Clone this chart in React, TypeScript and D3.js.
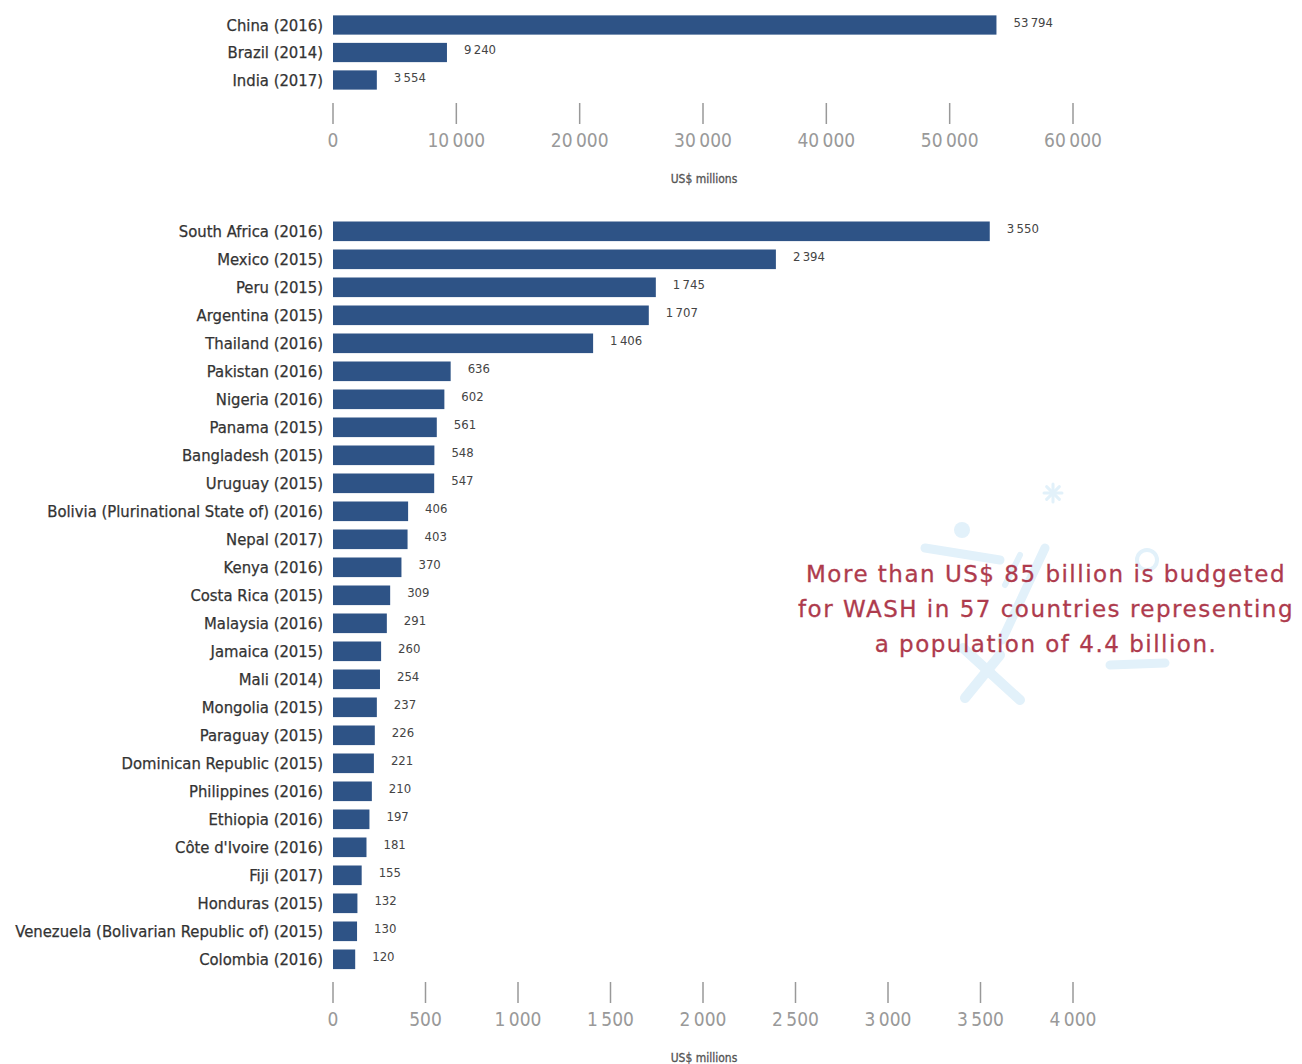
import React from "react";
import * as d3 from "d3";

const topCountries = ["China (2016)", "Brazil (2014)", "India (2017)"];
const topValues = [53794, 9240, 3554];
const topTicks = [0, 10000, 20000, 30000, 40000, 50000, 60000];

const countries = [
  "South Africa (2016)", "Mexico (2015)", "Peru (2015)", "Argentina (2015)", "Thailand (2016)",
  "Pakistan (2016)", "Nigeria (2016)", "Panama (2015)", "Bangladesh (2015)", "Uruguay (2015)",
  "Bolivia (Plurinational State of) (2016)", "Nepal (2017)", "Kenya (2016)", "Costa Rica (2015)",
  "Malaysia (2016)", "Jamaica (2015)", "Mali (2014)", "Mongolia (2015)", "Paraguay (2015)",
  "Dominican Republic (2015)", "Philippines (2016)", "Ethiopia (2016)", "Côte d'Ivoire (2016)",
  "Fiji (2017)", "Honduras (2015)", "Venezuela (Bolivarian Republic of) (2015)", "Colombia (2016)",
];
const values = [3550, 2394, 1745, 1707, 1406, 636, 602, 561, 548, 547, 406, 403, 370, 309, 291, 260, 254, 237, 226, 221, 210, 197, 181, 155, 132, 130, 120];
const bottomTicks = [0, 500, 1000, 1500, 2000, 2500, 3000, 3500, 4000];

const axisTitle = "US$ millions";
const noteLines = [
  "More than US$ 85 billion is budgeted",
  "for WASH in 57 countries representing",
  "a population of 4.4 billion.",
];

const BAR = "#2e5386";
const LABEL_FONT = "'Liberation Sans Narrow', 'DejaVu Sans Condensed', 'Roboto Condensed', Arial, sans-serif";
const fmt = (v: number) => d3.format(",")(v).replace(/,/g, "\u2009");

function Panel({ names, vals, ticks, max, y0, y1, axisY }: any) {
  const x = d3.scaleLinear().domain([0, max]).range([333, 1073]);
  const y = d3.scaleBand<string>().domain(names).range([y0, y1]).paddingInner(0.3).paddingOuter(0.15);
  return (
    <g>
      {names.map((n: string, i: number) => (
        <g key={n}>
          <text x={323} y={(y(n) as number) + y.bandwidth() / 2} dy="0.35em" textAnchor="end"
            fontFamily={LABEL_FONT} fontSize={16.5} fill="#333" stroke="#333" strokeWidth={0.25}>{n}</text>
          <rect x={x(0)} y={y(n)} width={x(vals[i]) - x(0)} height={y.bandwidth()} fill={BAR} />
          <text x={x(vals[i]) + 17} y={(y(n) as number) + y.bandwidth() / 2 - 3} dy="0.35em"
            fontFamily={LABEL_FONT} fontSize={13} fill="#444">{fmt(vals[i])}</text>
        </g>
      ))}
      {ticks.map((t: number) => (
        <g key={t}>
          <line x1={x(t)} x2={x(t)} y1={axisY} y2={axisY + 21} stroke="#999" strokeWidth={1.5} />
          <text x={x(t)} y={axisY + 37} dy="0.35em" textAnchor="middle" fontFamily={LABEL_FONT}
            fontSize={19} fill="#999">{fmt(t)}</text>
        </g>
      ))}
      <text x={704} y={axisY + 76} dy="0.35em" textAnchor="middle" fontFamily={LABEL_FONT}
        fontSize={12} fill="#555" stroke="#555" strokeWidth={0.3}>{axisTitle}</text>
    </g>
  );
}

export default function App() {
  const deco = "#e2f1fa";
  return (
    <svg width={1302} height={1064} style={{ display: "block", position: "absolute", left: 0, top: 0, background: "#fff" }}>
      {/* faint decorative illustration */}
      <g stroke={deco} fill="none" strokeLinecap="round">
        <g transform="translate(1053,493)" strokeWidth={3}>
          {[0, 45, 90, 135].map((a) => (
            <line key={a} x1={-9} y1={0} x2={9} y2={0} transform={`rotate(${a})`} />
          ))}
        </g>
        <circle cx={962} cy={530} r={8} fill={deco} stroke="none" />
        <line x1={925} y1={548} x2={1000} y2={560} strokeWidth={9} />
        <line x1={1045} y1={548} x2={1002} y2={640} strokeWidth={9} />
        <line x1={1020} y1={555} x2={1005} y2={585} strokeWidth={6} />
        <line x1={963} y1={648} x2={1020} y2={700} strokeWidth={10} />
        <line x1={1000} y1={655} x2={965} y2={698} strokeWidth={10} />
        <circle cx={1147} cy={560} r={10} strokeWidth={4} />
        <line x1={1110} y1={665} x2={1165} y2={663} strokeWidth={9} />
      </g>
      <Panel names={topCountries} vals={topValues} ticks={topTicks} max={60000} y0={11.25} y1={93.75} axisY={103} />
      <Panel names={countries} vals={values} ticks={bottomTicks} max={4000} y0={217.3} y1={973.3} axisY={982} />
      {noteLines.map((l, i) => (
        <text key={i} x={1046} y={574 + i * 35} dy="0.35em" textAnchor="middle"
          fontFamily="'DejaVu Sans', sans-serif" fontSize={23} letterSpacing={1.5}
          fill="#ae3b4d" stroke="#ae3b4d" strokeWidth={0.3}>{l}</text>
      ))}
    </svg>
  );
}
